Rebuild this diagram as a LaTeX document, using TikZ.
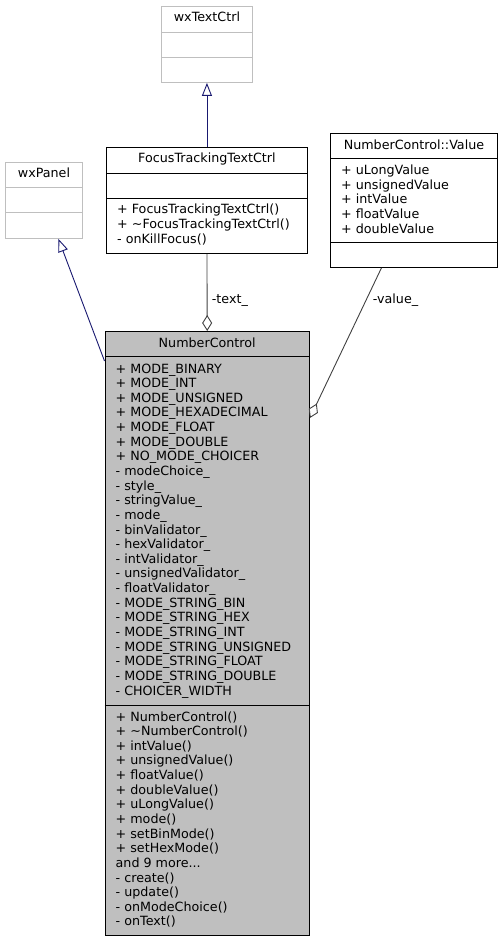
\documentclass[tikz,border=0pt]{standalone}
\usepackage{fontspec}
\setmainfont{DejaVu Sans}
\usetikzlibrary{calc,arrows.meta}

\definecolor{edgeblue}{HTML}{191970}
\definecolor{edgegray}{HTML}{404040}
\definecolor{boxgray}{HTML}{BFBFBF}
\newcommand{\moredots}{...}

\tikzset{
    cls/.style={draw=black, line width=0.9pt, rectangle, inner sep=0pt, anchor=north west},
    extcls/.style={cls, draw=boxgray},
    member/.style={anchor=base west, inner sep=0pt},
    ctitle/.style={anchor=base, inner sep=0pt},
    inherit/.style={draw=edgeblue, line width=0.9pt, -{Triangle[open, length=13pt, width=10pt]}},
    uses/.style={draw=edgegray, line width=0.9pt, -{Diamond[open, length=16pt, width=10pt]}}
}

\begin{document}
\begin{tikzpicture}[x=1pt, y=-1pt, font=\fontsize{12.7}{14.64}\selectfont]
\useasboundingbox (0,0) rectangle (502,941);

    % class boxes
    \node[extcls, minimum width=91pt, minimum height=76pt] (wxtext) at (161,6) {};
    \node[extcls, minimum width=77pt, minimum height=76pt] (wxpanel) at (5,162) {};
    \node[cls, minimum width=201pt, minimum height=106pt] (fttc) at (106,147) {};
    \node[cls, minimum width=167pt, minimum height=134pt] (value) at (330,133) {};
    \node[cls, fill=boxgray, minimum width=204.5pt, minimum height=604pt] (nc) at (104.5,331) {};

    % compartments
    \foreach \n/\a/\b in {fttc/26/51, value/25/109, nc/25/374} {
        \draw[line width=0.9pt] ($(\n.north west)+(0,\a)$)--($(\n.north east)+(0,\a)$);
        \draw[line width=0.9pt] ($(\n.north west)+(0,\b)$)--($(\n.north east)+(0,\b)$);}
    \foreach \n/\a/\b in {wxtext/26/51, wxpanel/25/50} {
        \draw[boxgray, line width=0.9pt] ($(\n.north west)+(0,\a)$)--($(\n.north east)+(0,\a)$);
        \draw[boxgray, line width=0.9pt] ($(\n.north west)+(0,\b)$)--($(\n.north east)+(0,\b)$);}

    % titles
    \node[ctitle] (wxtextT) at ($(wxtext.north)+(0,16)$) {wxTextCtrl};
    \node[ctitle] (wxpanelT) at ($(wxpanel.north)+(0,16)$) {wxPanel};
    \node[ctitle] (fttcT) at ($(fttc.north)+(0,16)$) {FocusTrackingTextCtrl};
    \node[ctitle] (valueT) at ($(value.north)+(0,16.5)$) {NumberControl::Value};
    \node[ctitle] (ncT) at ($(nc.north)+(0,16)$) {NumberControl};

    % members
    \foreach \t [count=\i from 0] in {+ FocusTrackingTextCtrl(), + \textasciitilde FocusTrackingTextCtrl(), - onKillFocus()} {
    \node[member] at ($(fttc.north west)+(11,67+14.64*\i)$) {\t};}

    \foreach \t [count=\i from 0] in {+ uLongValue, + unsignedValue, + intValue, + floatValue, + doubleValue} {
    \node[member] at ($(value.north west)+(11,41.5+14.64*\i)$) {\t};}

    \foreach \t [count=\i from 0] in {+ MODE\_BINARY, + MODE\_INT, + MODE\_UNSIGNED, + MODE\_HEXADECIMAL,
        + MODE\_FLOAT, + MODE\_DOUBLE, + NO\_MODE\_CHOICER, - modeChoice\_, - style\_, - stringValue\_,
        - mode\_, - binValidator\_, - hexValidator\_, - intValidator\_, - unsignedValidator\_,
        - floatValidator\_, - MODE\_STRING\_BIN, - MODE\_STRING\_HEX, - MODE\_STRING\_INT,
        - MODE\_STRING\_UNSIGNED, - MODE\_STRING\_FLOAT, - MODE\_STRING\_DOUBLE, - CHOICER\_WIDTH} {
    \node[member] at ($(nc.north west)+(11,42+14.64*\i)$) {\t};}

    \foreach \t [count=\i from 0] in {+ NumberControl(), + \textasciitilde NumberControl(), + intValue(),
        + unsignedValue(), + floatValue(), + doubleValue(), + uLongValue(), + mode(), + setBinMode(),
        + setHexMode(), and 9 more\moredots, - create(), - update(), - onModeChoice(), - onText()} {
    \node[member] at ($(nc.north west)+(11,390+14.64*\i)$) {\t};}

    % relations
    \draw[inherit] (fttc.north)--(wxtext.south);
    \draw[inherit] ($(nc.north west)+(0,30)$)--($(wxpanel.south)+(14.5,0)$);
    \draw[uses] (fttc.south)--(nc.north)
        node[member] at ($(fttc.south)+(4.5,50)$) {-text\_};
    \draw[uses] ($(value.south)+(-32.5,0)$)--($(nc.north east)+(0,87)$)
        node[member] at ($(value.south)+(-41.5,36)$) {-value\_};

\end{tikzpicture}
\end{document}
